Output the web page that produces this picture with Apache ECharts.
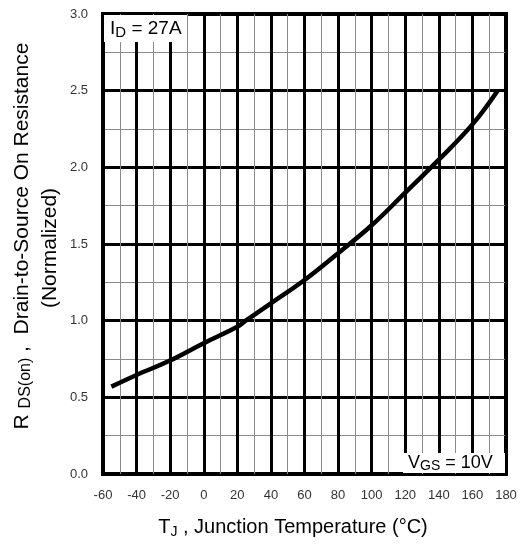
<!DOCTYPE html>
<html><head><meta charset="utf-8">
<script src="https://cdn.jsdelivr.net/npm/echarts@6/dist/echarts.min.js"></script>
<style>html,body{margin:0;padding:0;background:#fff}#c{width:521px;height:546px}</style>
</head><body><div id="c"></div>
<script>
const temps = [-55, -40, -20, 0, 20, 25, 40, 60, 80, 100, 120, 140, 160, 175];
const rdson = [0.57, 0.646, 0.74, 0.853, 0.96, 1.0, 1.113, 1.265, 1.44, 1.622, 1.835, 2.05, 2.28, 2.5];
const xTicks = [-60, 180, 20];
const yTicks = [0, 3, 0.5];
const FONT = '"Liberation Sans Narrow", "Arial Narrow", "Liberation Sans", Arial, sans-serif';

const chart = echarts.init(document.getElementById('c'));
chart.setOption({
  animation: false,
  backgroundColor: '#fff',
  grid: {left: 103, right: 15, top: 14, bottom: 72, show: true, borderColor: '#000', borderWidth: 4, backgroundColor: 'transparent'},
  xAxis: {
    type: 'value', min: xTicks[0], max: xTicks[1], interval: xTicks[2],
    axisLine: {show: false}, axisTick: {show: false},
    axisLabel: {color: '#333', fontSize: 13, fontFamily: FONT, margin: 15},
    splitLine: {show: true, lineStyle: {color: '#000', width: 3}},
    minorTick: {show: false, splitNumber: 2},
    minorSplitLine: {show: true, lineStyle: {color: '#8a8a8a', width: 1}}
  },
  yAxis: {
    type: 'value', min: yTicks[0], max: yTicks[1], interval: yTicks[2],
    axisLine: {show: false}, axisTick: {show: false},
    axisLabel: {color: '#333', fontSize: 13, fontFamily: FONT, margin: 15, formatter: v => v.toFixed(1)},
    splitLine: {show: true, lineStyle: {color: '#000', width: 3}},
    minorTick: {show: false, splitNumber: 2},
    minorSplitLine: {show: true, lineStyle: {color: '#8a8a8a', width: 1}}
  },
  series: [{
    type: 'line', data: temps.map((t, i) => [t, rdson[i]]), smooth: 0.4,
    showSymbol: false, lineStyle: {color: '#000', width: 4.5}, z: 5
  }],
  graphic: [
    {type: 'rect', shape: {x: 104, y: 15, width: 83, height: 27}, style: {fill: '#fff'}, z: 100},
    {type: 'text', x: 110, y: 29, z: 101, style: {
      text: '{a|I}{b|D}{a| = 27A}', textVerticalAlign: 'middle', fontFamily: FONT,
      rich: {a: {fontSize: 19, fontFamily: FONT, fill: '#000'}, b: {fontSize: 15, fontFamily: FONT, fill: '#000', padding: [8, 0, 0, 0]}}
    }},
    {type: 'rect', shape: {x: 403, y: 453, width: 102, height: 20}, style: {fill: '#fff'}, z: 100},
    {type: 'text', x: 408, y: 463, z: 101, style: {
      text: '{a|V}{b|GS}{a| = 10V}', textVerticalAlign: 'middle', fontFamily: FONT,
      rich: {a: {fontSize: 18, fontFamily: FONT, fill: '#000'}, b: {fontSize: 14, fontFamily: FONT, fill: '#000', padding: [6, 0, 0, 0]}}
    }},
    {type: 'text', x: 293, y: 527, z: 101, style: {
      text: '{a|T}{b|J}{a| , Junction Temperature (°C)}', textAlign: 'center', textVerticalAlign: 'middle', fontFamily: FONT,
      rich: {a: {fontSize: 20, fontFamily: FONT, fill: '#000'}, b: {fontSize: 14, fontFamily: FONT, fill: '#000', padding: [10, 0, 0, 0]}}
    }},
    {type: 'text', x: 22, y: 236, rotation: Math.PI / 2, z: 101, style: {
      text: '{a|R }{b|DS(on)}{a| ,  Drain-to-Source On Resistance}', textAlign: 'center', textVerticalAlign: 'middle', fontFamily: FONT,
      rich: {a: {fontSize: 21, fontFamily: FONT, fill: '#000'}, b: {fontSize: 16, fontFamily: FONT, fill: '#000', padding: [8, 0, 0, 0]}}
    }},
    {type: 'text', x: 50, y: 248, rotation: Math.PI / 2, z: 101, style: {
      text: '(Normalized)', textAlign: 'center', textVerticalAlign: 'middle', fontFamily: FONT, fontSize: 21, fill: '#000'
    }}
  ]
});
</script></body></html>
